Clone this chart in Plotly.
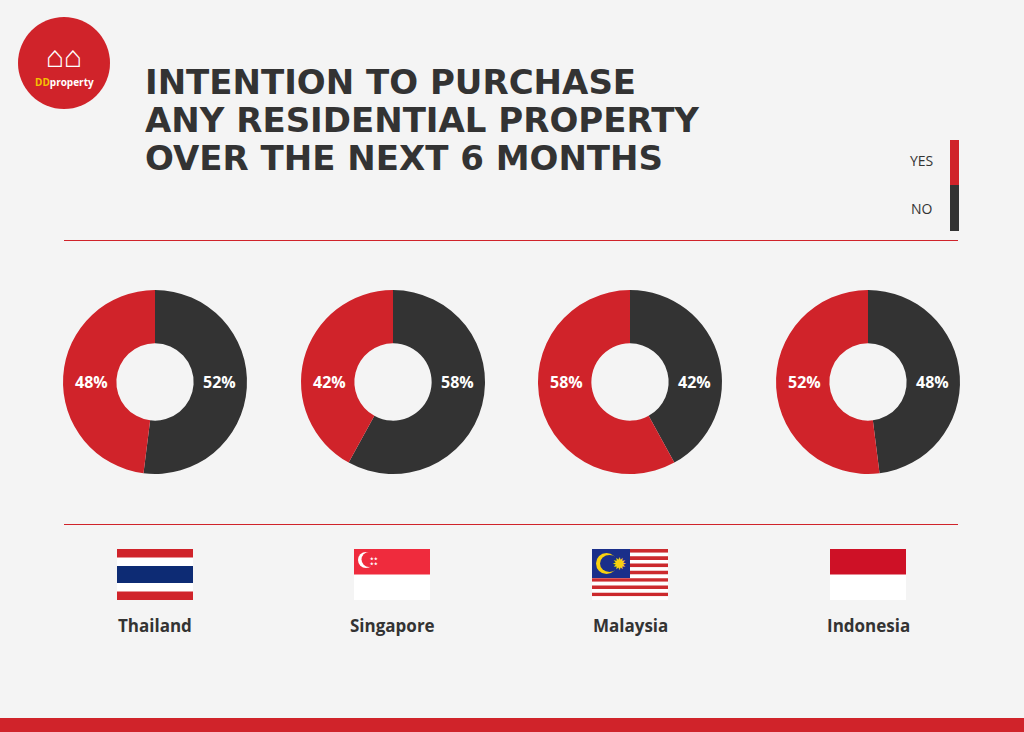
import plotly.graph_objects as go

countries = ["Thailand", "Singapore", "Malaysia", "Indonesia"]
yes_vals = [48, 42, 58, 52]
no_vals = [52, 58, 42, 48]
title_lines = ["INTENTION TO PURCHASE", "ANY RESIDENTIAL PROPERTY", "OVER THE NEXT 6 MONTHS"]

W, H = 1024, 732
RED, DARK, BG = "#d0232a", "#333333", "#f4f4f4"
def px(x): return x / W
def py(y): return 1 - y / H

fig = go.Figure()
centers = [155, 393, 630, 868]
R = 92
shapes, ann = [], []
def text(x, y, s, size, color, bold=True, xa="center", family="Open Sans"):
    ann.append(dict(x=px(x), y=py(y), xref="paper", yref="paper", text=s, showarrow=False,
                    xanchor=xa, yanchor="middle", font=dict(size=size, color=color, family=family,
                    weight=700 if bold else 400)))

for i, c in enumerate(countries):
    fig.add_trace(go.Pie(
        values=[no_vals[i], yes_vals[i]], labels=["NO", "YES"],
        marker=dict(colors=[DARK, RED]), sort=False, direction="clockwise",
        rotation=0, hole=0.42, textinfo="none",
        domain=dict(x=[px(centers[i]-R), px(centers[i]+R)], y=[py(382+R), py(382-R)]),
        showlegend=False, hoverinfo="skip"))
    text(centers[i] - 64, 382, f"{yes_vals[i]}%", 16, "white")
    text(centers[i] + 64, 382, f"{no_vals[i]}%", 16, "white")

def rect(x0, y0, x1, y1, color, layer="above"):
    shapes.append(dict(type="rect", xref="paper", yref="paper", x0=px(x0), x1=px(x1),
                       y0=py(y1), y1=py(y0), fillcolor=color, line_width=0, layer=layer))
def circ(x0, y0, x1, y1, color):
    shapes.append(dict(type="circle", xref="paper", yref="paper", x0=px(x0), x1=px(x1),
                       y0=py(y1), y1=py(y0), fillcolor=color, line_width=0))

# logo
circ(18, 17, 110, 109, RED)
text(64, 56, "⌂⌂", 30, "#ffffff")
text(64, 82, "<span style='color:#f5c400'>DD</span>property", 10, "white")
# title
for k, t in enumerate(title_lines):
    text(143, 82 + k*38, t, 34, DARK, xa="left", family="DejaVu Sans")
# legend
rect(950, 140, 959, 185, RED)
rect(950, 185, 959, 231, DARK)
text(935, 161, "YES", 14, DARK, bold=False, xa="right")
text(935, 208, "NO", 14, DARK, bold=False, xa="right")
# separators
rect(64, 240, 958, 241, RED)
rect(64, 524, 958, 525, RED)
rect(0, 718, 1024, 732, RED)

# flags
fx = [117, 354, 592, 830]
y0, y1 = 549, 600
x = fx[0]
rect(x, y0, x+76, y1, "white")
rect(x, y0, x+76, y0+8.5, RED); rect(x, y1-8.5, x+76, y1, RED)
rect(x, y0+17, x+76, y1-17, "#0d2b74")
x = fx[1]
rect(x, y0, x+76, y1, "white"); rect(x, y0, x+76, y0+25.5, "#ef2b3d")
circ(x+4, y0+3, x+20, y0+19, "white"); circ(x+7.5, y0+3, x+22.5, y0+18, "#ef2b3d")
text(x+20, y0+12, "★★<br>★★", 4, "white")
x = fx[2]
for s in range(14):
    rect(x, y0 + s*51/14, x+76, y0 + (s+1)*51/14, "#cc2a2e" if s % 2 == 0 else "white")
rect(x, y0, x+38, y0+29, "#1a2f8a")
circ(x+4, y0+4, x+25, y0+25, "#f8d10f"); circ(x+8, y0+6, x+27, y0+23, "#1a2f8a")
text(x+27, y0+14, "✹", 15, "#f8d10f")
x = fx[3]
rect(x, y0, x+76, y1, "white"); rect(x, y0, x+76, y0+25.5, "#ce1126")
for i, c in enumerate(countries):
    text(fx[i]+38, 625, c, 17, DARK)

fig.update_layout(width=W, height=H, margin=dict(l=0, r=0, t=0, b=0),
                  paper_bgcolor=BG, plot_bgcolor=BG, shapes=shapes, annotations=ann)
fig.write_html("out.html", config={"displayModeBar": False},
               post_script="document.body.style.margin='0';document.body.style.overflow='hidden';")
